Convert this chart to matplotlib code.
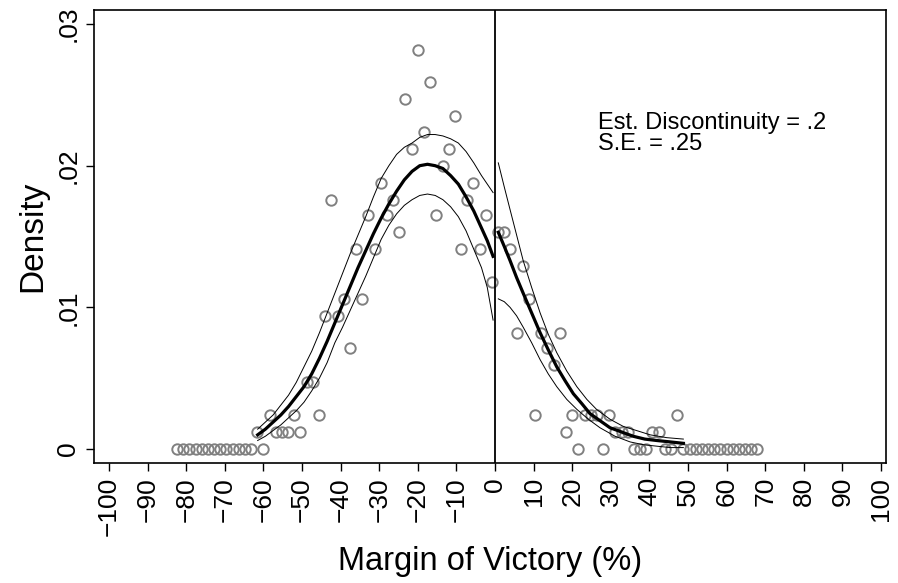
import numpy as np
import matplotlib.pyplot as plt

plt.rcParams['font.family'] = ['Liberation Sans', 'DejaVu Sans']

# histogram bin centres and densities, left of the threshold
left_x = [-0.8, -2.4, -4.0, -5.6, -7.2, -8.8, -10.4, -12.0, -13.6, -15.2,
          -16.8, -18.4, -20.0, -21.6, -23.2, -24.8, -26.4, -28.0, -29.6, -31.2,
          -32.8, -34.4, -36.0, -37.6, -39.2, -40.8, -42.4, -44.0, -45.6, -47.2,
          -48.8, -50.4, -52.0, -53.6, -55.2, -56.8, -58.4, -60.0, -61.6, -63.2,
          -64.8, -66.4, -68.0, -69.6, -71.2, -72.8, -74.4, -76.0, -77.6, -79.2,
          -80.8, -82.4]
left_dens = [.0118, .0165, .0141, .0188, .0176, .0141, .0235, .0212, .0200, .0165,
             .0259, .0224, .0282, .0212, .0247, .0153, .0176, .0165, .0188, .0141,
             .0165, .0106, .0141, .0071, .0106, .0094, .0176, .0094, .0024, .0047,
             .0047, .0012, .0024, .0012, .0012, .0012, .0024, 0, .0012, 0,
             0, 0, 0, 0, 0, 0, 0, 0, 0, 0,
             0, 0]

# right of the threshold
right_x = [0.8, 2.4, 4.0, 5.6, 7.2, 8.8, 10.4, 12.0, 13.6, 15.2,
           16.8, 18.4, 20.0, 21.6, 23.2, 24.8, 26.4, 28.0, 29.6, 31.2,
           32.8, 34.4, 36.0, 37.6, 39.2, 40.8, 42.4, 44.0, 45.6, 47.2,
           48.8, 50.4, 52.0, 53.6, 55.2, 56.8, 58.4, 60.0, 61.6, 63.2,
           64.8, 66.4, 68.0]
right_dens = [.0153, .0153, .0141, .0082, .0129, .0106, .0024, .0082, .0071, .0059,
              .0082, .0012, .0024, 0, .0024, .0024, .0024, 0, .0024, .0012,
              .0012, .0012, 0, 0, 0, .0012, .0012, 0, 0, .0024,
              0, 0, 0, 0, 0, 0, 0, 0, 0, 0,
              0, 0, 0]

# fitted density and confidence band, left side
fit_left_x = [-61.5, -59.5, -57.5, -55.5, -53.5, -51.5, -49.5, -47.5, -45.5, -43.5,
              -41.5, -39.5, -37.5, -35.5, -33.5, -31.5, -29.5, -27.5, -25.5, -23.5,
              -21.5, -19.5, -17.5, -15.5, -13.5, -11.5, -9.5, -7.5, -5.5, -3.5,
              -2.0, -0.5]
fit_left = [.0010, .0014, .0019, .0024, .0030, .0037, .0044, .0053, .0064, .0076,
            .0089, .0102, .0115, .0128, .0140, .0152, .0163, .0173, .0182, .0190,
            .0196, .0200, .0201, .0200, .0198, .0193, .0187, .0178, .0168, .0156,
            .0147, .0136]
hi_left = [.0014, .0019, .0024, .0031, .0038, .0047, .0058, .0069, .0082, .0096,
           .0110, .0124, .0138, .0151, .0164, .0178, .0191, .0200, .0208, .0213,
           .0216, .0220, .0222, .0222, .0221, .0219, .0216, .0210, .0202, .0193,
           .0187, .0181]
lo_left = [.0006, .0009, .0013, .0017, .0022, .0027, .0033, .0041, .0050, .0061,
           .0075, .0086, .0098, .0110, .0122, .0135, .0148, .0158, .0166, .0172,
           .0176, .0179, .0180, .0179, .0176, .0171, .0164, .0154, .0141, .0128,
           .0114, .0091]

# right side
fit_right_x = [0.85, 2.4, 3.9, 5.6, 7.3, 9.5, 11.7, 13.8, 16.0, 18.2, 20.3, 22.5,
               24.6, 27.2, 29.8, 32.8, 35.8, 38.8, 41.9, 45.4, 48.8]
fit_right = [.0153, .0143, .0133, .0121, .0110, .0096, .0082, .0070, .0058, .0048, .0039,
             .0032, .0025, .0020, .0015, .0012, .0009, .0007, .0006, .0005, .0004]
hi_right_x = [0.85, 2.4, 3.9, 5.6, 7.3, 9.5, 11.7, 13.8, 16.0, 18.6, 21.2, 23.8,
              26.3, 29.8, 33.2, 36.7, 40.2, 44.5, 48.8]
hi_right = [.0202, .0185, .0169, .0151, .0133, .0114, .0096, .0081, .0068, .0055,
            .0044, .0035, .0028, .0021, .0016, .0013, .0010, .0008, .0007]
lo_right_x = [0.85, 2.4, 3.9, 5.6, 7.3, 9.5, 11.7, 13.8, 16.0, 18.6, 21.2, 24.2,
              27.2, 31.1, 35.0, 38.5, 41.9, 45.4, 48.8]
lo_right = [.0106, .0104, .0100, .0094, .0086, .0075, .0063, .0053, .0044, .0035,
            .0028, .0021, .0015, .0009, .0005, .0003, .0002, .0001, .0001]

xticks = list(range(-100, 101, 10))
yticks = [0, .01, .02, .03]
ytick_labels = ['0', '.01', '.02', '.03']

fig = plt.figure(figsize=(8.98, 5.83), dpi=100)
ax = fig.add_axes([0.1047, 0.2058, 0.8819, 0.777])

pt_style = dict(ls='none', marker='o', ms=7.5, mfc='none', mec='#808080', mew=1.4)
ax.plot(left_x, left_dens, **pt_style)
ax.plot(right_x, right_dens, **pt_style)

ax.plot(fit_left_x, fit_left, color='black', lw=2.3)
ax.plot(fit_left_x, hi_left, color='black', lw=0.7)
ax.plot(fit_left_x, lo_left, color='black', lw=0.7)
ax.plot(fit_right_x, fit_right, color='black', lw=2.3)
ax.plot(hi_right_x, hi_right, color='black', lw=0.7)
ax.plot(lo_right_x, lo_right, color='black', lw=0.7)

ax.axvline(0, color='black', lw=1.3)

ax.text(26.7, .0238, 'Est. Discontinuity = .2\nS.E. = .25', fontsize=17,
        va='top', ha='left', linespacing=0.95)

ax.set_xlim(-103.9, 101.3)
ax.set_ylim(-0.00099, 0.03099)
ax.set_xticks(xticks)
ax.set_xticklabels([str(t).replace('-', '\u2212') for t in xticks], rotation=90, fontsize=19)
ax.set_yticks(yticks)
ax.set_yticklabels(ytick_labels, rotation=90, va='center', fontsize=19)
ax.tick_params(direction='out', length=6, width=1, pad=4)
for s in ax.spines.values():
    s.set_linewidth(1.2)

ax.set_xlabel('Margin of Victory (%)', fontsize=23.5, labelpad=7)
ax.set_ylabel('Density', fontsize=24, labelpad=6)

fig.savefig('out.png', dpi=100)
